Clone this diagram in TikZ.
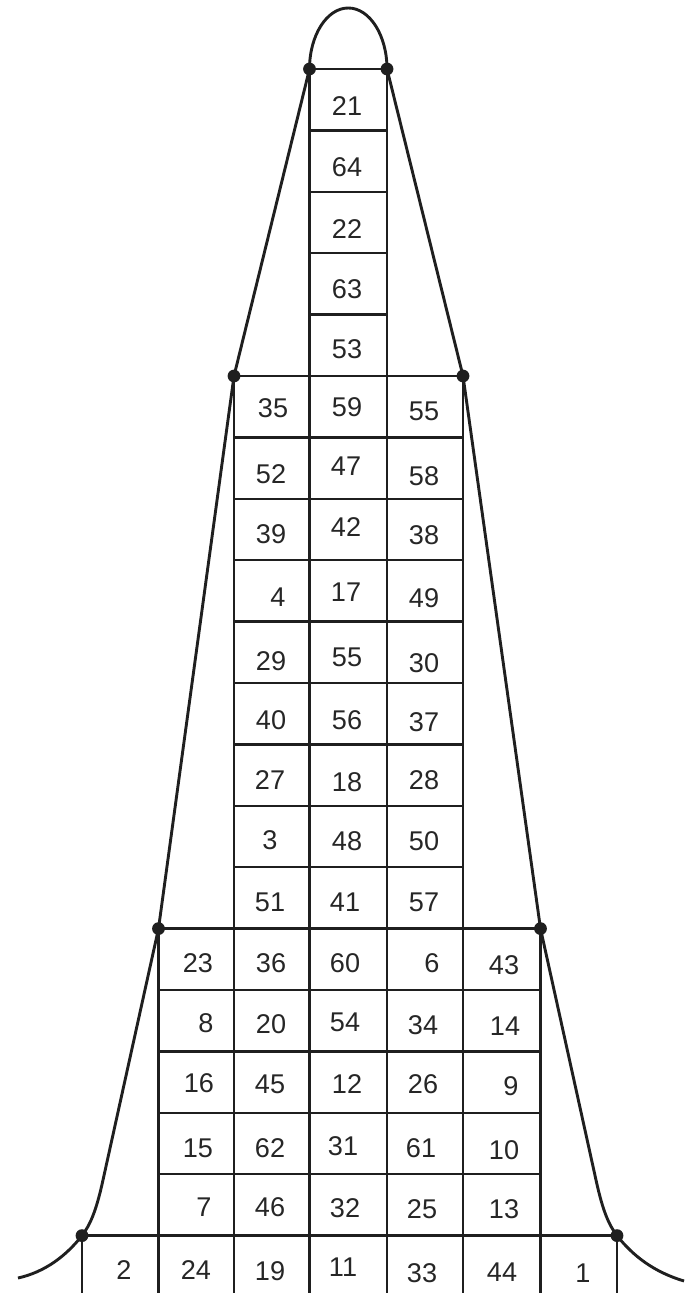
\documentclass[tikz,border=0pt]{standalone}
\usepackage{fontspec}
\setmainfont{Liberation Sans}
\begin{document}
\begin{tikzpicture}[x=0.5bp,y=-0.5bp,
  gridline/.style={line width=1.2bp, black!88},
  outline/.style={line width=1.45bp, black!88, line join=round},
  dotmark/.style={circle, fill=black!88, inner sep=0, minimum size=6.4bp},
  num/.style={inner sep=0, font=\fontsize{13.6}{15}\selectfont, text=black!85}]
\useasboundingbox (0,0) rectangle (693,1293);

% ---- grid: top column
\draw[gridline] (309.5,69) rectangle (387,376);
\foreach \y in {130.4,191.8,253.2,314.6} \draw[gridline] (309.5,\y) -- (387,\y);
% ---- grid: three columns
\draw[gridline] (234,376) rectangle (463,928.6);
\foreach \y in {437.4,498.8,560.2,621.6,683,744.4,805.8,867.2} \draw[gridline] (234,\y) -- (463,\y);
% ---- grid: five columns
\draw[gridline] (158.5,928.6) rectangle (540.5,1235.6);
\foreach \y in {990,1051.4,1112.8,1174.2} \draw[gridline] (158.5,\y) -- (540.5,\y);
% ---- bottom row
\draw[gridline] (82,1235.6) -- (617,1235.6);
\draw[gridline] (309.5,376) -- (309.5,1293);
\draw[gridline] (387,376) -- (387,1293);
\draw[gridline] (234,928.6) -- (234,1293);
\draw[gridline] (463,928.6) -- (463,1293);
\draw[gridline] (158.5,1235.6) -- (158.5,1293);
\draw[gridline] (540.5,1235.6) -- (540.5,1293);
\draw[gridline] (82,1235.6) -- (82,1293);
\draw[gridline] (617,1235.6) -- (617,1293);

% ---- outline (bell curve)
\draw[outline] (309.5,69) arc[start angle=180, end angle=360, x radius=38.75, y radius=61];
\draw[outline] (309.5,69) -- (234,376) -- (158.5,928.6) -- (103,1180)
  .. controls (96,1212) and (90,1225) .. (82,1235.6)
  .. controls (66,1256) and (45,1272) .. (18,1278);
\draw[outline] (387,69) -- (463,376) -- (540.5,928.6) -- (596,1180)
  .. controls (603,1212) and (609,1225) .. (617,1235.6)
  .. controls (633,1256) and (654,1272) .. (684,1281);

% ---- dots
\node[dotmark] (d1) at (309.5,69) {};
\node[dotmark] (d2) at (387,69) {};
\node[dotmark] (d3) at (234,376) {};
\node[dotmark] (d4) at (463,376) {};
\node[dotmark] (d5) at (158.5,928.6) {};
\node[dotmark] (d6) at (540.5,928.6) {};
\node[dotmark] (d7) at (82,1235.6) {};
\node[dotmark] (d8) at (617,1235.6) {};

% ---- numbers: top column
\node[num] (n21) at (347,106) {21};
\node[num] (n64) at (347,167) {64};
\node[num] (n22) at (347,229) {22};
\node[num] (n63) at (347,289) {63};
\node[num] (n53) at (347,349) {53};
% ---- three columns
\node[num] (n35) at (273,408) {35};
\node[num] (n59) at (347,407) {59};
\node[num] (n55a) at (424,411) {55};
\node[num] (n52) at (271,474) {52};
\node[num] (n47) at (346,466) {47};
\node[num] (n58) at (424,476) {58};
\node[num] (n39) at (271,534) {39};
\node[num] (n42) at (346,527) {42};
\node[num] (n38) at (424,535) {38};
\node[num] (n4) at (278,597) {4};
\node[num] (n17) at (346,592) {17};
\node[num] (n49) at (424,598) {49};
\node[num] (n29) at (271,661) {29};
\node[num] (n55b) at (347,657) {55};
\node[num] (n30) at (424,663) {30};
\node[num] (n40) at (271,720) {40};
\node[num] (n56) at (347,720) {56};
\node[num] (n37) at (424,722) {37};
\node[num] (n27) at (270,780) {27};
\node[num] (n18) at (347,782) {18};
\node[num] (n28) at (424,780) {28};
\node[num] (n3) at (270,840) {3};
\node[num] (n48) at (347,841) {48};
\node[num] (n50) at (424,841) {50};
\node[num] (n51) at (270,902) {51};
\node[num] (n41) at (345,902) {41};
\node[num] (n57) at (424,902) {57};
% ---- five columns
\node[num] (n23) at (198,963) {23};
\node[num] (n36) at (271,963) {36};
\node[num] (n60) at (345,963) {60};
\node[num] (n6) at (432,963) {6};
\node[num] (n43) at (504,965) {43};
\node[num] (n8) at (206,1023) {8};
\node[num] (n20) at (271,1024) {20};
\node[num] (n54) at (345,1022) {54};
\node[num] (n34) at (423,1025) {34};
\node[num] (n14) at (505,1026) {14};
\node[num] (n16) at (199,1083) {16};
\node[num] (n45) at (270,1084) {45};
\node[num] (n12) at (347,1084) {12};
\node[num] (n26) at (423,1084) {26};
\node[num] (n9) at (511,1086) {9};
\node[num] (n15) at (198,1148) {15};
\node[num] (n62) at (270,1148) {62};
\node[num] (n31) at (343,1146) {31};
\node[num] (n61) at (421,1148) {61};
\node[num] (n10) at (504,1150) {10};
\node[num] (n7) at (204,1207) {7};
\node[num] (n46) at (270,1207) {46};
\node[num] (n32) at (345,1208) {32};
\node[num] (n25) at (422,1209) {25};
\node[num] (n13) at (504,1209) {13};
% ---- bottom row
\node[num] (n2) at (124,1270) {2};
\node[num] (n24) at (196,1270) {24};
\node[num] (n19) at (270,1271) {19};
\node[num] (n11) at (343,1267) {11};
\node[num] (n33) at (422,1273) {33};
\node[num] (n44) at (502,1272) {44};
\node[num] (n1) at (583,1273) {1};
\end{tikzpicture}
\end{document}
